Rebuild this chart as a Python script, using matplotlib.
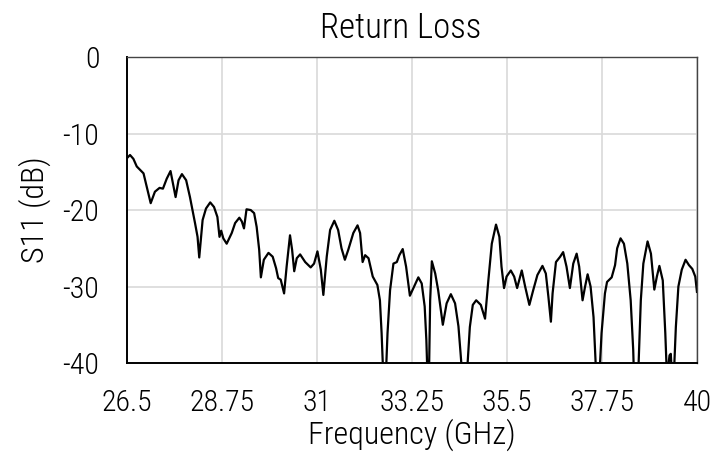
import matplotlib
matplotlib.use("Agg")
import matplotlib.pyplot as plt

plt.rcParams["font.family"] = ["Roboto Condensed", "DejaVu Sans"]
plt.rcParams["font.weight"] = "light"
plt.rcParams["axes.titleweight"] = "light"
plt.rcParams["axes.labelweight"] = "light"
plt.rcParams["axes.unicode_minus"] = False

freq = [26.50, 26.57, 26.65, 26.73, 26.82, 26.89, 27.06, 27.16, 27.27, 27.35, 27.44, 27.53,
        27.65, 27.72, 27.80, 27.90, 27.99, 28.11, 28.17, 28.21, 28.29, 28.37, 28.47, 28.56,
        28.64, 28.69, 28.73, 28.78, 28.86, 28.98, 29.06, 29.16, 29.22, 29.27, 29.33, 29.43,
        29.51, 29.57, 29.63, 29.67, 29.74, 29.85, 29.95, 30.03, 30.08, 30.14, 30.22, 30.28,
        30.36, 30.41, 30.46, 30.52, 30.60, 30.72, 30.85, 30.93, 31.01, 31.09, 31.15, 31.23,
        31.31, 31.41, 31.50, 31.58, 31.66, 31.74, 31.86, 31.96, 32.02, 32.08, 32.14, 32.22,
        32.32, 32.43, 32.49, 32.53, 32.60, 32.67, 32.73, 32.81, 32.89, 32.95, 33.03, 33.11,
        33.20, 33.30, 33.40, 33.48, 33.55, 33.59, 33.64, 33.68, 33.72, 33.80, 33.87, 33.98,
        34.07, 34.17, 34.27, 34.35, 34.40, 34.50, 34.62, 34.69, 34.77, 34.88, 34.98, 35.06,
        35.14, 35.24, 35.32, 35.37, 35.43, 35.49, 35.59, 35.67, 35.74, 35.85, 35.93, 36.03,
        36.12, 36.22, 36.34, 36.42, 36.48, 36.54, 36.58, 36.66, 36.76, 36.83, 36.91, 36.99,
        37.07, 37.15, 37.21, 37.29, 37.35, 37.41, 37.48, 37.55, 37.65, 37.74, 37.82, 37.87,
        37.98, 38.06, 38.11, 38.19, 38.27, 38.35, 38.43, 38.49, 38.53, 38.58, 38.67, 38.73,
        38.83, 38.91, 38.99, 39.05, 39.11, 39.19, 39.25, 39.29, 39.35, 39.38, 39.41, 39.45,
        39.50, 39.56, 39.64, 39.73, 39.81, 39.89, 39.96, 40.00]
s11 = [-13.2, -12.8, -13.3, -14.3, -14.8, -15.2, -19.1, -17.6, -17.1, -17.2, -15.9, -14.9,
       -18.3, -16.1, -15.3, -16.1, -18.3, -21.7, -23.5, -26.2, -21.3, -19.8, -19.0, -19.6,
       -20.9, -23.5, -22.7, -23.7, -24.4, -23.0, -21.7, -21.0, -21.5, -22.4, -19.9, -20.0,
       -20.4, -22.2, -25.2, -28.8, -26.5, -25.6, -26.1, -27.6, -28.9, -29.1, -30.9, -27.4,
       -23.3, -25.2, -28.0, -26.3, -25.8, -26.8, -27.5, -27.0, -25.4, -27.8, -31.1, -26.1,
       -22.6, -21.4, -22.6, -25.0, -26.5, -25.2, -23.0, -22.0, -23.0, -26.8, -25.9, -26.3,
       -28.7, -29.8, -31.8, -36.1, -46.0, -36.1, -30.5, -27.0, -26.8, -25.9, -25.1, -27.4,
       -31.2, -30.0, -28.8, -29.6, -32.6, -37.0, -46.0, -31.8, -26.7, -28.3, -30.5, -35.0,
       -32.2, -31.0, -32.2, -35.2, -38.7, -46.0, -35.3, -32.4, -31.8, -32.4, -34.2, -29.1,
       -24.4, -21.9, -23.5, -27.4, -30.2, -28.7, -27.9, -28.7, -30.2, -27.9, -30.0, -32.4,
       -30.5, -28.5, -27.3, -28.3, -31.3, -34.6, -30.9, -26.8, -26.1, -25.5, -27.4, -30.2,
       -27.0, -25.7, -27.4, -31.8, -30.0, -28.4, -30.0, -34.0, -46.0, -36.1, -30.9, -29.4,
       -28.8, -27.2, -25.0, -23.7, -24.4, -27.0, -31.8, -38.3, -46.0, -46.0, -31.8, -27.0,
       -24.1, -25.7, -30.4, -28.7, -27.3, -29.2, -36.1, -42.0, -39.0, -38.8, -42.0, -42.0,
       -35.3, -30.0, -27.8, -26.5, -27.2, -27.7, -28.7, -30.7]

xticks = [26.5, 28.75, 31, 33.25, 35.5, 37.75, 40]
xticklabels = ["26.5", "28.75", "31", "33.25", "35.5", "37.75", "40"]
yticks = [0, -10, -20, -30, -40]

fig = plt.figure(figsize=(7.26, 4.57), dpi=100)
ax = fig.add_axes([0.175, 0.2057, 0.785, 0.6693])
ax.plot(freq, s11, color="black", lw=1.6, solid_joinstyle="round")
ax.set_xlim(26.5, 40)
ax.set_ylim(-40, 0)
ax.set_xticks(xticks)
ax.set_xticklabels(xticklabels)
ax.set_yticks(yticks)
ax.grid(True, color="#d9d9d9", lw=1.2)
ax.set_axisbelow(True)
ax.tick_params(length=0, labelsize=21.5)
ax.tick_params(axis="x", pad=19)
ax.tick_params(axis="y", pad=20)
for side in ["left", "bottom"]:
    ax.spines[side].set_color("black")
    ax.spines[side].set_linewidth(1.4)
for side in ["top", "right"]:
    ax.spines[side].set_color("#444444")
    ax.spines[side].set_linewidth(1.0)
ax.set_title("Return Loss", fontsize=25, pad=14, x=0.48)
ax.set_xlabel("Frequency (GHz)", fontsize=23, labelpad=1)
ax.set_ylabel("S11 (dB)", fontsize=23, labelpad=8)
fig.savefig("out.png", dpi=100)
